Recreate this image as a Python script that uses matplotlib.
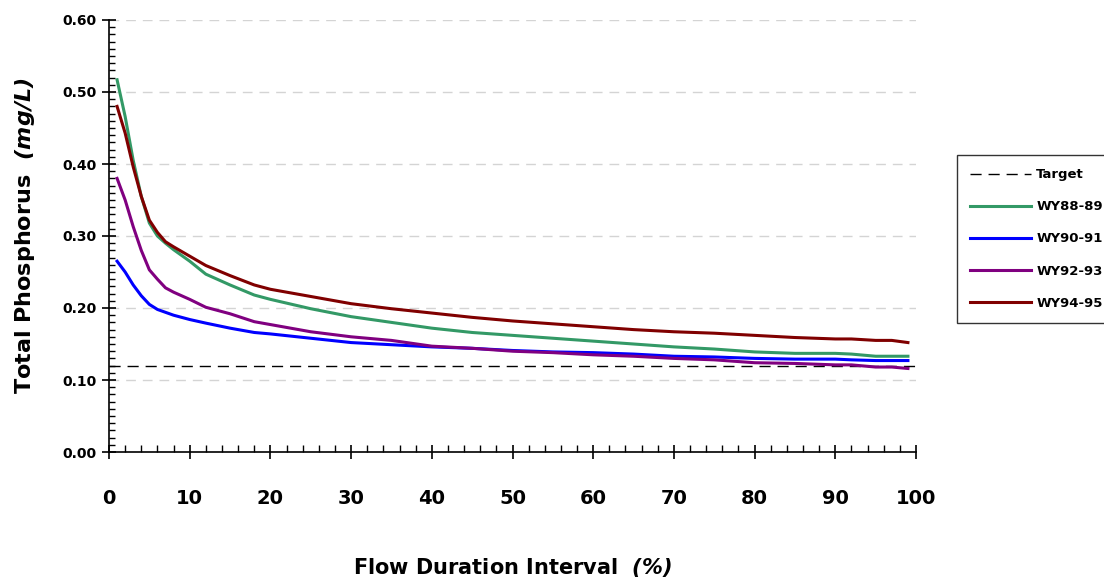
import matplotlib.pyplot as plt
from matplotlib.ticker import MultipleLocator

plt.rcParams['font.family'] = ['DejaVu Sans']
plt.rcParams['font.weight'] = 'bold'
plt.rcParams['mathtext.fontset'] = 'dejavusans'

# flow duration interval (%)
flow = [1, 2, 3, 4, 5, 6, 7, 8, 10, 12, 15, 18, 20, 25, 30, 35, 40, 45, 50,
        55, 60, 65, 70, 75, 80, 85, 90, 92, 95, 97, 99]

wy88_89 = [0.517, 0.466, 0.405, 0.355, 0.318, 0.300, 0.290, 0.281, 0.265, 0.247,
           0.232, 0.218, 0.212, 0.199, 0.188, 0.180, 0.172, 0.166, 0.162, 0.158,
           0.154, 0.150, 0.146, 0.143, 0.139, 0.137, 0.137, 0.136, 0.133, 0.133, 0.133]
wy90_91 = [0.265, 0.250, 0.232, 0.217, 0.205, 0.198, 0.194, 0.190, 0.184, 0.179,
           0.172, 0.166, 0.164, 0.158, 0.152, 0.149, 0.146, 0.144, 0.141, 0.139,
           0.138, 0.136, 0.133, 0.132, 0.130, 0.129, 0.129, 0.128, 0.127, 0.127, 0.127]
wy92_93 = [0.380, 0.350, 0.313, 0.280, 0.253, 0.240, 0.228, 0.222, 0.212, 0.201,
           0.192, 0.181, 0.177, 0.167, 0.160, 0.155, 0.147, 0.144, 0.140, 0.138,
           0.135, 0.133, 0.130, 0.128, 0.124, 0.123, 0.121, 0.121, 0.118, 0.118, 0.116]
wy94_95 = [0.480, 0.443, 0.396, 0.355, 0.322, 0.305, 0.292, 0.285, 0.272, 0.259,
           0.245, 0.232, 0.226, 0.216, 0.206, 0.199, 0.193, 0.187, 0.182, 0.178,
           0.174, 0.170, 0.167, 0.165, 0.162, 0.159, 0.157, 0.157, 0.155, 0.155, 0.152]

target = 0.12
target_x = [0, 100]

fig = plt.figure(figsize=(11.04, 5.83), dpi=100)
ax = fig.add_axes([109 / 1104, 1 - 452 / 583, (916 - 109) / 1104, (452 - 20) / 583])

ax.plot(target_x, [target, target], color='black', lw=1.0, ls=(0, (8, 5)), label='Target')
ax.plot(flow, wy88_89, color='#339966', lw=2.2, label='WY88-89')
ax.plot(flow, wy90_91, color='#0000ff', lw=2.2, label='WY90-91')
ax.plot(flow, wy92_93, color='#800080', lw=2.2, label='WY92-93')
ax.plot(flow, wy94_95, color='#800000', lw=2.2, label='WY94-95')

ax.set_xlim(0, 100)
ax.set_ylim(0, 0.6)
ax.xaxis.set_major_locator(MultipleLocator(10))
ax.xaxis.set_minor_locator(MultipleLocator(2))
ax.yaxis.set_major_locator(MultipleLocator(0.1))
ax.yaxis.set_minor_locator(MultipleLocator(0.01))
ax.yaxis.set_major_formatter(plt.FormatStrFormatter('%.2f'))

ax.grid(axis='y', which='major', color='#d4d4d4', ls=(0, (7, 5)), lw=1)
ax.set_axisbelow(True)

for s in ['top', 'right']:
    ax.spines[s].set_visible(False)
ax.spines['left'].set_linewidth(1.2)
ax.spines['bottom'].set_linewidth(1.2)

ax.tick_params(axis='x', which='major', direction='inout', length=10, width=1.2,
               labelsize=14, pad=22)
ax.tick_params(axis='x', which='minor', direction='in', length=5, width=1)
ax.tick_params(axis='y', which='major', direction='inout', length=10, width=1.2,
               labelsize=10, pad=4)
ax.tick_params(axis='y', which='minor', direction='in', length=4, width=1)
for lab in ax.get_xticklabels() + ax.get_yticklabels():
    lab.set_fontweight('bold')

ax.set_xlabel(r'Flow Duration Interval  $\mathbfit{(\%)}$', fontsize=15,
              fontweight='bold', labelpad=34)
ax.set_ylabel(r'Total Phosphorus  $\mathbfit{(mg/L)}$', fontsize=16,
              fontweight='bold', labelpad=18)

leg = ax.legend(loc='center left', bbox_to_anchor=(957 / 1104, 1 - 239 / 583),
                bbox_transform=fig.transFigure, frameon=True, fancybox=False,
                edgecolor='black', prop={'size': 9.5, 'weight': 'bold'},
                handlelength=4.6, handletextpad=0.4, labelspacing=1.45,
                borderpad=1.0, borderaxespad=0)
leg.get_frame().set_linewidth(1.0)

fig.savefig('out.png', dpi=100)
